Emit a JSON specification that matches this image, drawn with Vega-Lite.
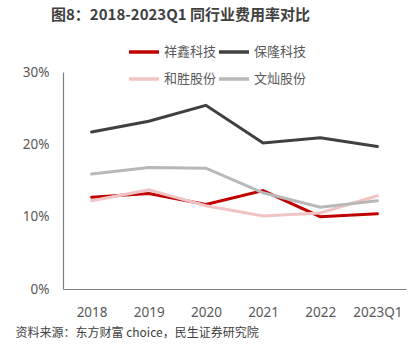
{
  "$schema": "https://vega.github.io/schema/vega-lite/v6.json",
  "autosize": {"type": "none"},
  "width": 343,
  "height": 217,
  "padding": {"left": 63, "top": 72, "right": 14, "bottom": 61},
  "background": "white",
  "config": {
    "font": "Noto Sans CJK SC",
    "view": {"stroke": null}
  },
  "title": {
    "text": "图8：2018-2023Q1 同行业费用率对比",
    "anchor": "start",
    "frame": "group",
    "orient": "none",
    "dx": -12,
    "dy": -57,
    "fontSize": 15,
    "fontWeight": "bold",
    "color": "#404040",
    "baseline": "middle"
  },
  "data": {
    "values": [
      {"year": "2018", "company": "祥鑫科技", "value": 0.127},
      {"year": "2019", "company": "祥鑫科技", "value": 0.132},
      {"year": "2020", "company": "祥鑫科技", "value": 0.117},
      {"year": "2021", "company": "祥鑫科技", "value": 0.136},
      {"year": "2022", "company": "祥鑫科技", "value": 0.100},
      {"year": "2023Q1", "company": "祥鑫科技", "value": 0.104},
      {"year": "2018", "company": "保隆科技", "value": 0.217},
      {"year": "2019", "company": "保隆科技", "value": 0.232},
      {"year": "2020", "company": "保隆科技", "value": 0.254},
      {"year": "2021", "company": "保隆科技", "value": 0.202},
      {"year": "2022", "company": "保隆科技", "value": 0.209},
      {"year": "2023Q1", "company": "保隆科技", "value": 0.197},
      {"year": "2018", "company": "和胜股份", "value": 0.122},
      {"year": "2019", "company": "和胜股份", "value": 0.137},
      {"year": "2020", "company": "和胜股份", "value": 0.115},
      {"year": "2021", "company": "和胜股份", "value": 0.101},
      {"year": "2022", "company": "和胜股份", "value": 0.105},
      {"year": "2023Q1", "company": "和胜股份", "value": 0.129},
      {"year": "2018", "company": "文灿股份", "value": 0.159},
      {"year": "2019", "company": "文灿股份", "value": 0.168},
      {"year": "2020", "company": "文灿股份", "value": 0.167},
      {"year": "2021", "company": "文灿股份", "value": 0.133},
      {"year": "2022", "company": "文灿股份", "value": 0.113},
      {"year": "2023Q1", "company": "文灿股份", "value": 0.122}
    ]
  },
  "mark": {"type": "line", "strokeWidth": 3, "strokeCap": "round"},
  "encoding": {
    "x": {
      "field": "year",
      "type": "ordinal",
      "scale": {"type": "point", "padding": 0.5},
      "axis": {
        "title": "资料来源：东方财富 choice，民生证券研究院",
        "titleAnchor": "start",
        "titleAlign": "left",
        "titleBaseline": "middle",
        "titleX": -48,
        "titleY": 43,
        "titleFontSize": 12,
        "titleFontWeight": "normal",
        "titleColor": "#404040",
        "labelAngle": 0,
        "labelFontSize": 13.5,
        "labelColor": "#595959",
        "labelPadding": 16,
        "labelFont": "Noto Sans",
        "ticks": false,
        "domainColor": "#7f7f7f",
        "domainWidth": 1.2
      }
    },
    "y": {
      "field": "value",
      "type": "quantitative",
      "scale": {"domain": [0, 0.3]},
      "axis": {
        "title": null,
        "format": ".0%",
        "values": [0, 0.1, 0.2, 0.3],
        "grid": false,
        "ticks": false,
        "labelFontSize": 13.5,
        "labelColor": "#595959",
        "labelPadding": 14,
        "labelFont": "Noto Sans",
        "domainColor": "#7f7f7f",
        "domainWidth": 1.2
      }
    },
    "color": {
      "field": "company",
      "type": "nominal",
      "sort": ["祥鑫科技", "保隆科技", "和胜股份", "文灿股份"],
      "scale": {
        "domain": ["祥鑫科技", "保隆科技", "和胜股份", "文灿股份"],
        "range": ["#C00000", "#404040", "#F0C4C4", "#B8B8B8"]
      },
      "legend": {
        "title": null,
        "orient": "none",
        "legendX": 64,
        "legendY": -37,
        "direction": "horizontal",
        "columns": 2,
        "symbolType": "stroke",
        "symbolSize": 900,
        "symbolStrokeWidth": 3.5,
        "labelFontSize": 13,
        "labelColor": "#595959",
        "labelOffset": 3,
        "columnPadding": -9,
        "rowPadding": 3
      }
    }
  }
}
